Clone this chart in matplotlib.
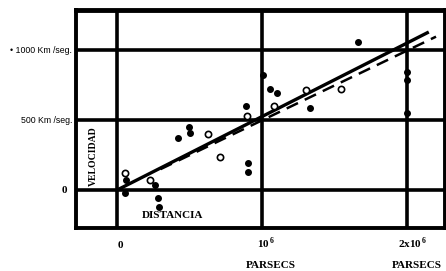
import matplotlib.pyplot as plt
from matplotlib.transforms import blended_transform_factory

plt.rcParams['font.family'] = ['Liberation Serif', 'DejaVu Serif']
plt.rcParams['mathtext.fontset'] = 'custom'
plt.rcParams['mathtext.rm'] = 'Liberation Serif:bold'
plt.rcParams['mathtext.bf'] = 'Liberation Serif:bold'

# distancia (parsecs) y velocidad (km/s) - nebulosas individuales (puntos negros)
dist_ind = [0.062e6, 0.055e6, 0.262e6, 0.283e6, 0.290e6, 0.421e6, 0.497e6, 0.503e6,
            0.890e6, 0.903e6, 0.903e6, 1.007e6, 1.055e6, 1.103e6, 1.331e6, 1.662e6,
            2.0e6, 2.0e6, 2.0e6]
vel_ind = [71, -21, 36, -57, -121, 371, 450, 407,
           600, 193, 129, 821, 721, 693, 586, 1057,
           843, 786, 550]

# grupos (circulos abiertos)
dist_grp = [0.055e6, 0.228e6, 0.628e6, 0.710e6, 0.897e6, 1.083e6, 1.303e6, 1.545e6]
vel_grp = [121, 71, 400, 236, 529, 600, 714, 721]

# rectas de ajuste
fit_x = [0, 2.14e6]
fit_solid = [0, 525 * 2.14]
dash_x = [0.3e6, 2.2e6]
dash_y = [0.3 * 498, 2.2 * 498]

fig = plt.figure(figsize=(4.46, 2.71), dpi=100)
ax = fig.add_axes([76 / 446, 43 / 271, 369 / 446, 218 / 271])

ax.set_xlim(-0.283e6, 2.262e6)
ax.set_ylim(-271, 1286)

for v in [0, 1e6, 2e6]:
    ax.axvline(v, color='black', lw=2.6, zorder=1)
for h in [0, 500, 1000]:
    ax.axhline(h, color='black', lw=2.6, zorder=1)

ax.plot(fit_x, fit_solid, color='black', lw=2.4, zorder=3)
ax.plot(dash_x, dash_y, color='black', lw=1.8, ls=(0, (5, 3)), zorder=3)

ax.plot(dist_ind, vel_ind, 'o', color='black', ms=4, zorder=4)
ax.plot(dist_grp, vel_grp, 'o', mfc='white', mec='black', mew=1.2, ms=4.5, zorder=4)

ax.set_xticks([])
ax.set_yticks([])
for s in ax.spines.values():
    s.set_linewidth(2.8)
ax.spines['top'].set_linewidth(3.5)

# etiquetas del eje y
ytr = blended_transform_factory(fig.transFigure, ax.transData)
ax.text(72 / 446, 1000, '• 1000 Km /seg.', transform=ytr, ha='right', va='center',
        fontsize=6.3, family='Liberation Sans')
ax.text(72 / 446, 500, '500 Km /seg.', transform=ytr, ha='right', va='center',
        fontsize=6.3, family='Liberation Sans')
ax.text(64 / 446, 0, '0', transform=ytr, ha='center', va='center',
        fontsize=8, fontweight='bold')

# etiquetas del eje x
xtr = blended_transform_factory(ax.transData, fig.transFigure)
ax.text(0.02e6, 1 - 246 / 271, '0', transform=xtr, ha='center', va='center',
        fontsize=8, fontweight='bold')
ax.text(0.03e6 + 1e6, 1 - 243 / 271, r'10$^{\,6}$', transform=xtr, ha='center', va='center',
        fontsize=8, fontweight='bold')
ax.text(1.06e6, 1 - 266 / 271, 'PARSECS', transform=xtr, ha='center', va='center',
        fontsize=8, fontweight='bold')
ax.text(2.04e6, 1 - 243 / 271, r'2x10$^{\,6}$', transform=xtr, ha='center', va='center',
        fontsize=8, fontweight='bold')
ax.text(2.07e6, 1 - 266 / 271, 'PARSECS', transform=xtr, ha='center', va='center',
        fontsize=8, fontweight='bold')

ax.text(-0.16e6, 240, 'VELOCIDAD', rotation=90, ha='center', va='center',
        fontsize=7, fontweight='bold')
ax.text(0.385e6, -180, 'DISTANCIA', ha='center', va='center',
        fontsize=8, fontweight='bold')

fig.savefig('out.png', dpi=100)
